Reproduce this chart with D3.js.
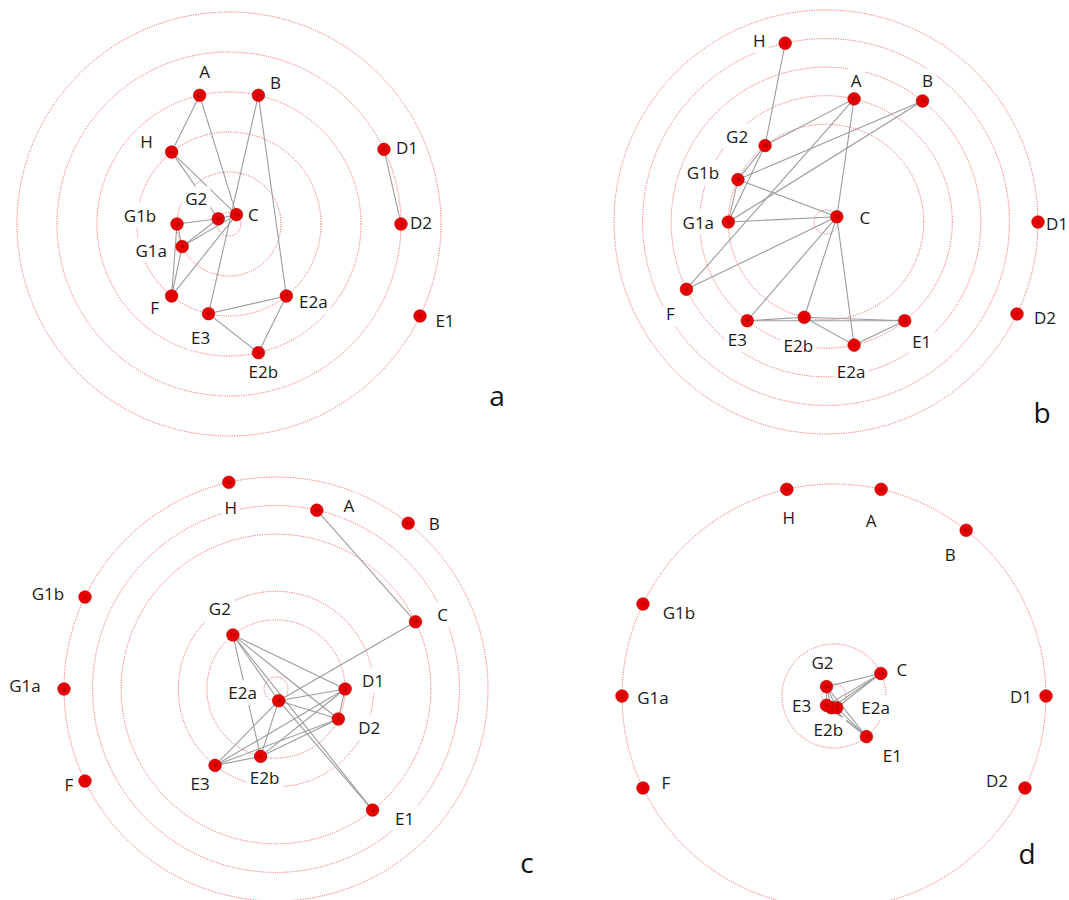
<!DOCTYPE html>
<html>
<head>
<meta charset="utf-8">
<script src="https://cdnjs.cloudflare.com/ajax/libs/d3/7.8.5/d3.min.js"></script>
<style>
  body { margin: 0; background: #fff; }
  svg { display: block; }
</style>
</head>
<body>
<div id="chart"></div>
<script>
// node order around every circle, one angular slot each
var nodes = ["A", "B", "C", "D1", "D2", "E1", "E2a", "E2b", "E3", "F", "G1a", "G1b", "G2", "H"];
// small id printed inside each dot
var nodeIds = [12, 13, 14, 1, 2, 3, 4, 5, 6, 7, 8, 9, 10, 11];

// ring level of each node (same order as nodes), one list per panel
var levelsA = [3, 3, 0, 4, 4, 5, 2, 3, 2, 2, 1, 1, 0, 2];
var levelsB = [4, 5, 0, 7, 7, 4, 4, 3, 4, 5, 3, 3, 3, 6];
var levelsC = [6, 7, 5, 2, 2, 5, 0, 2, 3, 7, 7, 7, 2, 7];
var levelsD = [5, 5, 1, 5, 5, 1, 0, 0, 0, 5, 5, 5, 0, 5];

// edges of each panel
var linksA = [["A","H"],["A","C"],["B","E3"],["B","E2a"],["H","C"],["H","G2"],["G2","C"],
  ["G1b","G2"],["G1b","G1a"],["G1b","F"],["G1a","G2"],["G1a","C"],["G1a","F"],["F","C"],
  ["E3","E2a"],["E3","E2b"],["E2a","E2b"],["D1","D2"]];
var linksB = [["H","G2"],["A","G2"],["A","F"],["A","C"],["B","G1b"],["B","G1a"],["G2","G1b"],
  ["G2","G1a"],["G1b","G1a"],["G1b","C"],["G1a","C"],["F","C"],["C","E3"],["C","E2b"],
  ["C","E2a"],["E3","E2b"],["E3","E1"],["E2b","E1"],["E2b","E2a"],["E2a","E1"]];
var linksC = [["A","C"],["C","E2a"],["G2","D1"],["G2","D2"],["G2","E2a"],["G2","E1"],["G2","E2b"],
  ["E2a","D1"],["E2a","D2"],["E2a","E1"],["E2a","E3"],["E2a","E2b"],["D1","D2"],["D1","E3"],
  ["D1","E2b"],["D2","E3"],["D2","E2b"],["E3","E2b"]];
var linksD = [["C","G2"],["C","E3"],["C","E2b"],["C","E2a"],["E1","G2"],["E1","E3"],["E1","E2b"],
  ["E1","E2a"],["G2","E3"],["G2","E2b"],["G2","E2a"],["E3","E2b"],["E2b","E2a"]];

// label offsets from the dot (layout only)
var labelsA = [[5,-24],[17,-13],[17,0],[23,-2],[20,-2],[25,5],[27,6],[5,19],[-8,24],[-17,12],[-31,4],[-37,-9],[-22,-20],[-25,-11]];
var labelsB = [[2,-18],[5,-20],[28,1],[19,1],[28,4],[17,21],[-3,26],[-6,28],[-10,19],[-16,24],[-30,0],[-35,-7],[-28,-9],[-26,-3]];
var labelsC = [[32,-5],[26,0],[27,-7],[28,-9],[31,9],[32,8],[-36,-8],[4,21],[-15,18],[-16,4],[-39,-4],[-37,-4],[-13,-26],[2,25]];
var labelsD = [[-10,31],[-16,24],[21,-4],[-25,0],[-28,-7],[26,19],[39,0],[-3,22],[-25,0],[23,-5],[31,1],[36,8],[-4,-24],[2,28]];

var W = 1069, H = 900;

var panels = [
  { letter: "a", levels: levelsA, links: linksA, labels: labelsA, cx: 229, cy: 224, shift: -1, lx: 497, ly: 395 },
  { letter: "b", levels: levelsB, links: linksB, labels: labelsB, cx: 826, cy: 222, shift: 0, lx: 1042, ly: 412 },
  { letter: "c", levels: levelsC, links: linksC, labels: labelsC, cx: 276, cy: 689, shift: 0, lx: 527, ly: 862 },
  { letter: "d", levels: levelsD, links: linksD, labels: labelsD, cx: 834, cy: 696, shift: 0, lx: 1027, ly: 853 }
];

var svg = d3.select("#chart")
  .append("svg")
  .attr("width", W)
  .attr("height", H);

panels.forEach(function(p) {
  var g = svg.append("g")
    .attr("transform", "translate(" + p.cx + "," + p.cy + ")");

  // radius from ring level, angle from node slot
  var radius = d3.scaleLinear()
    .domain([0, d3.max(p.levels)])
    .range([12, 212]);
  var step = 2 * Math.PI / nodes.length;
  var angle = d3.scaleBand()
    .domain(nodes)
    .range([p.shift * step, 2 * Math.PI + p.shift * step]);

  var pos = {};
  nodes.forEach(function(n, i) {
    pos[n] = d3.pointRadial(angle(n) + angle.bandwidth() / 2, radius(p.levels[i]));
  });

  // one dotted ring per used level
  var rings = Array.from(new Set(p.levels)).sort(d3.ascending);
  g.selectAll("circle.ring")
    .data(rings)
    .enter()
    .append("circle")
    .attr("class", "ring")
    .attr("r", function(d) { return radius(d); })
    .attr("fill", "none")
    .attr("stroke", "#f03030")
    .attr("stroke-opacity", 0.7)
    .attr("stroke-width", 1)
    .attr("stroke-dasharray", "1.2 1.2");

  // edges
  g.selectAll("line.link")
    .data(p.links)
    .enter()
    .append("line")
    .attr("class", "link")
    .attr("x1", function(d) { return pos[d[0]][0]; })
    .attr("y1", function(d) { return pos[d[0]][1]; })
    .attr("x2", function(d) { return pos[d[1]][0]; })
    .attr("y2", function(d) { return pos[d[1]][1]; })
    .attr("stroke", "#9c9c9c")
    .attr("stroke-width", 1.1);

  // labels with white backing that hides rings and edges under them
  var lab = g.selectAll("g.label")
    .data(nodes)
    .enter()
    .append("g")
    .attr("class", "label")
    .attr("transform", function(d, i) {
      return "translate(" + (pos[d][0] + p.labels[i][0]) + "," + (pos[d][1] + p.labels[i][1]) + ")";
    });
  lab.append("rect").attr("fill", "#fff");
  lab.append("text")
    .attr("text-anchor", "middle")
    .attr("dominant-baseline", "central")
    .style("font-family", "'Open Sans', sans-serif")
    .style("font-size", "17px")
    .attr("fill", "#1a1a1a")
    .text(function(d) { return d; });
  lab.each(function() {
    var b = d3.select(this).select("text").node().getBBox();
    d3.select(this).select("rect")
      .attr("x", b.x - 3).attr("y", b.y - 1)
      .attr("width", b.width + 6).attr("height", b.height + 2);
  });

  // dots
  var dot = g.selectAll("g.node")
    .data(nodes)
    .enter()
    .append("g")
    .attr("class", "node")
    .attr("transform", function(d) { return "translate(" + pos[d][0] + "," + pos[d][1] + ")"; });
  dot.append("circle")
    .attr("r", 6.3)
    .attr("fill", "#e60000")
    .attr("stroke", "#b30000")
    .attr("stroke-width", 0.6);
  dot.append("text")
    .attr("text-anchor", "middle")
    .attr("dominant-baseline", "central")
    .style("font-family", "'DejaVu Sans', sans-serif")
    .style("font-size", "4.5px")
    .attr("fill", "#7a0000")
    .text(function(d, i) { return nodeIds[i]; });

  // panel letter
  svg.append("text")
    .attr("x", p.lx)
    .attr("y", p.ly)
    .attr("text-anchor", "middle")
    .attr("dominant-baseline", "central")
    .style("font-family", "'Open Sans', sans-serif")
    .style("font-size", "28px")
    .attr("fill", "#111")
    .text(p.letter);
});
</script>
</body>
</html>
